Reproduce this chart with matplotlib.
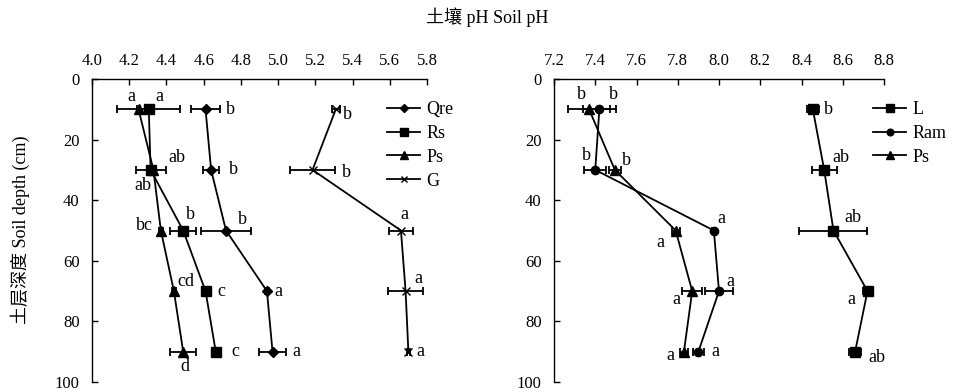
import matplotlib
matplotlib.use("Agg")
import matplotlib.pyplot as plt

plt.rcParams['font.family'] = ['Liberation Serif', 'Noto Sans CJK SC']
plt.rcParams['font.size'] = 12

# ---------------- data ----------------
depth = [10, 30, 50, 70, 90]

# left panel
qre_ph = [4.61, 4.64, 4.72, 4.94, 4.97]
qre_err = [0.08, 0.045, 0.135, 0.01, 0.07]
qre_lab = ["b", "b", "b", "a", "a"]

rs_ph = [4.305, 4.315, 4.49, 4.61, 4.665]
rs_err = [0.17, 0.08, 0.07, 0.01, 0.01]
rs_lab = ["a", "ab", "b", "c", "c"]

psl_ph = [4.25, 4.33, 4.37, 4.44, 4.49]
psl_err = [0.01, 0.01, 0.01, 0.01, 0.07]
psl_lab = ["a", "ab", "bc", "cd", "d"]

g_ph = [5.31, 5.185, 5.66, 5.685, 5.70]
g_err = [0.02, 0.12, 0.065, 0.095, 0.01]
g_lab = ["b", "b", "a", "a", "a"]

# right panel
l_ph = [8.455, 8.51, 8.555, 8.72, 8.66]
l_err = [0.03, 0.06, 0.165, 0.02, 0.03]
l_lab = ["b", "ab", "ab", "a", "ab"]

ram_ph = [7.42, 7.40, 7.975, 8.00, 7.90]
ram_err = [0.08, 0.053, 0.01, 0.067, 0.028]
ram_lab = ["b", "b", "a", "a", "a"]

psr_ph = [7.37, 7.495, 7.79, 7.87, 7.83]
psr_err = [0.1, 0.03, 0.02, 0.047, 0.02]
psr_lab = ["b", "b", "a", "a", "a"]

left_xticks = [4.0, 4.2, 4.4, 4.6, 4.8, 5.0, 5.2, 5.4, 5.6, 5.8]
right_xticks = [7.2, 7.4, 7.6, 7.8, 8.0, 8.2, 8.4, 8.6, 8.8]
yticks = [0, 20, 40, 60, 80, 100]

title = "土壤 pH Soil pH"
ylabel = "土层深度 Soil depth (cm)"

# ---------------- styles (label offsets in image pixels, y down) ----------------
qre_off = [(25, 0), (22, 0), (16, -11), (11, 0), (24, 0)]
rs_off = [(11, -13), (26, -12), (7, -16), (16, 0), (20, 0)]
psl_off = [(-7, -13), (-11, 16), (-16, -5), (12, -10), (2, 15)]
g_off = [(12, 5), (34, 3), (3, -16), (13, -13), (12, 0)]
l_off = [(16, 0), (17, -12), (19, -13), (-16, 8), (22, 6)]
ram_off = [(14, -15), (-9, -14), (8, -12), (11, -10), (17, 0)]
psr_off = [(-8, -15), (12, -9), (-15, 12), (-16, 8), (-14, 4)]

W, H = 955, 392
fig = plt.figure(figsize=(W / 100, H / 100), dpi=100)
axL = fig.add_axes([92 / W, 1 - 382 / H, 335 / W, 303 / H])
axR = fig.add_axes([554 / W, 1 - 382 / H, 330 / W, 303 / H])


def style_axes(ax, xlim, xticks):
    ax.set_xlim(*xlim)
    ax.set_ylim(100, 0)
    ax.set_xticks(xticks)
    ax.set_xticklabels([f"{t:.1f}" for t in xticks])
    ax.set_yticks(yticks)
    ax.xaxis.tick_top()
    ax.tick_params(direction='in', length=4, width=1, labelsize=12)
    ax.tick_params(axis='x', top=True, bottom=False, pad=7)
    ax.tick_params(axis='y', pad=9)
    for s in ['right', 'bottom']:
        ax.spines[s].set_visible(False)
    for s in ['left', 'top']:
        ax.spines[s].set_linewidth(1.0)
    ax.set_facecolor('none')


def series(ax, x, err, lab, off, marker, ms, name):
    ax.errorbar(x, depth, xerr=err, fmt='-', marker=marker, ms=ms, color='black',
                mfc='black', mec='black', lw=1.3, elinewidth=1.3, capsize=3,
                capthick=1.3, label=name)
    for xi, yi, t, (dx, dy) in zip(x, depth, lab, off):
        ax.annotate(t, (xi, yi), xytext=(dx, -dy), textcoords='offset pixels',
                    ha='center', va='center', fontsize=13)


style_axes(axL, (4.0, 5.8), left_xticks)
style_axes(axR, (7.2, 8.8), right_xticks)

series(axL, qre_ph, qre_err, qre_lab, qre_off, 'D', 5, 'Qre')
series(axL, rs_ph, rs_err, rs_lab, rs_off, 's', 6.5, 'Rs')
series(axL, psl_ph, psl_err, psl_lab, psl_off, '^', 6.5, 'Ps')
series(axL, g_ph, g_err, g_lab, g_off, 'x', 6, 'G')

series(axR, l_ph, l_err, l_lab, l_off, 's', 6.5, 'L')
series(axR, ram_ph, ram_err, ram_lab, ram_off, 'o', 6, 'Ram')
series(axR, psr_ph, psr_err, psr_lab, psr_off, '^', 6.5, 'Ps')

for ax, lx in [(axL, 387), (axR, 873)]:
    h, l = ax.get_legend_handles_labels()
    h = [hh[0] for hh in h]
    fig.legend(h, l, loc='upper left', bbox_to_anchor=(lx / W, 1 - 101 / H),
               frameon=False, fontsize=13, handlelength=1.85,
               handletextpad=0.35, labelspacing=0.38, borderaxespad=0,
               borderpad=0, markerscale=0.8)

fig.text(487 / W, 1 - 17 / H, title, ha='center', va='center', fontsize=13)
fig.text(20 / W, 1 - 230 / H, ylabel, ha='center', va='center',
         rotation=90, fontsize=13)

fig.savefig("out.png", dpi=100)
